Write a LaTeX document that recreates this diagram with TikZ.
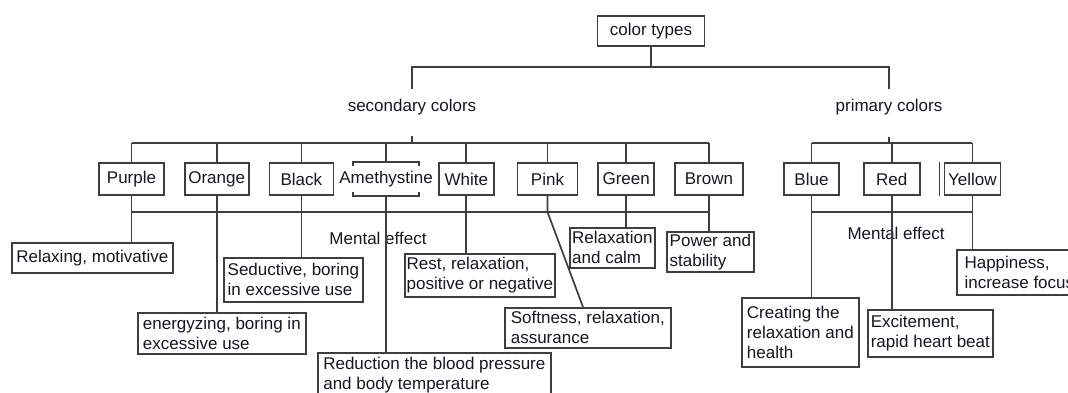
\documentclass[tikz,border=0pt]{standalone}
\usepackage{fontspec}
\setmainfont{Liberation Sans}
\usetikzlibrary{positioning}
\definecolor{linegray}{RGB}{62,62,62}
\definecolor{textdark}{RGB}{22,22,32}

\begin{document}
\begin{tikzpicture}[x=1pt,y=-1pt,line width=1.7pt,draw=linegray,text=textdark,
  node distance=19pt,font=\fontsize{17pt}{20pt}\selectfont,
  color node/.style={draw,minimum height=32pt,inner sep=0pt},
  effect node/.style={draw,anchor=north west,align=left,inner sep=1pt}]
  \clip (0,0) rectangle (1068,392);

  % top of the tree
  \node[color node,minimum width=107pt,minimum height=30pt] (root) at (651,31) {color types};
  \node (sec) at (412,107) {secondary colors};
  \node (prim) at (889,107) {primary colors};
  \coordinate (tbar) at (0,67);
  \coordinate (ubar) at (0,143);
  \coordinate (lbar) at (0,212);
  \draw (root) -- (root |- tbar);
  \draw ([yshift=18pt]sec.center) |- (tbar -| prim) -- ([yshift=18pt]prim.center);

  % secondary colors
  \node[color node,minimum width=65pt] (purple) at (131.5,179) {Purple};
  \node[color node,minimum width=64pt] (orange) [right=of purple] {Orange};
  \node[color node,minimum width=64pt] (black) [right=of orange] {Black};
  \node[minimum width=64pt,minimum height=32pt,inner sep=0pt] (ame) [right=of black] {\makebox[64pt]{Amethystine}};
  \node[color node,minimum width=55pt] (white) [right=of ame] {White};
  \node[color node,minimum width=60pt] (pink) [right=22pt of white] {Pink};
  \node[color node,minimum width=56pt] (green) [right=of pink] {Green};
  \node[color node,minimum width=68pt] (brown) [right=of green] {Brown};
  \draw ([yshift=-4pt]ame.north west) -- (ame.north west) -- (ame.north east) -- ([yshift=-4pt]ame.north east);
  \draw ([yshift=4pt]ame.south west) -- (ame.south west) -- (ame.south east) -- ([yshift=4pt]ame.south east);

  % primary colors
  \node[color node,minimum width=55pt] (blue) at (811.5,179) {Blue};
  \node[color node,minimum width=56pt] (red) [right=23pt of blue] {Red};
  \node[color node,minimum width=56pt] (yellow) [right=23pt of red] {Yellow};
  \draw ([xshift=-4pt]yellow.north west) -- ([xshift=-4pt]yellow.south west);

  \draw ([yshift=-29pt]sec.center) -- (sec |- ubar);
  \draw ([yshift=-30pt]prim.center) -- (prim |- ubar);
  \draw (purple |- ubar) -- (brown |- ubar);
  \draw (blue |- ubar) -- (yellow |- ubar);
  \foreach \c in {purple,orange,black,ame,white,pink,green,brown,blue,red,yellow}
    \draw (\c |- ubar) -- (\c);

  % mental effects
  \node (ment) at (378,238) {Mental effect};
  \node (mentp) at (896,233) {Mental effect};
  \node[effect node,minimum width=161pt,minimum height=30pt] (relax) at (11,242) {Relaxing, motivative};
  \node[effect node,minimum width=168pt,minimum height=41pt] (energ) at (137,312) {energyzing, boring in\\excessive use};
  \node[effect node,minimum width=139pt,minimum height=44pt] (seduct) at (223,257) {Seductive, boring\\in excessive use};
  \node[effect node,minimum width=233pt,minimum height=44pt] (reduct) at (317,352) {Reduction the blood pressure\\and body temperature};
  \node[effect node,minimum width=150pt,minimum height=43pt] (rest) at (404,253) {Rest, relaxation,\\positive or negative};
  \node[effect node,minimum width=166pt,minimum height=40pt] (soft) at (504,307) {Softness, relaxation,\\assurance};
  \node[effect node,minimum width=85pt,minimum height=40pt] (calm) at (569,227) {Relaxation\\and calm};
  \node[effect node,minimum width=87pt,minimum height=40pt] (power) at (666,231) {Power and\\stability};
  \node[effect node,minimum width=117pt,minimum height=69pt] (create) at (741,297) {Creating the\\relaxation and\\health};
  \node[effect node,minimum width=125pt,minimum height=47pt] (excite) at (867,309) {Excitement,\\rapid heart beat};
  \node[effect node,minimum width=125pt,minimum height=45pt,inner xsep=6pt] (happy) at (956,249) {Happiness,\\increase focus};

  \draw (purple |- lbar) -- (brown |- lbar);
  \draw (blue |- lbar) -- (yellow |- lbar);
  \draw (purple) -- (purple |- relax.north);
  \draw (orange) -- (orange |- energ.north);
  \draw (black) -- (black |- seduct.north);
  \draw (ame) -- (ame |- reduct.north);
  \draw (white) -- (white |- rest.north);
  \draw (pink) -- (pink |- lbar) -- ([xshift=79pt]soft.north west);
  \draw (green) -- (green |- calm.north);
  \draw (brown) -- (brown |- power.north);
  \draw (blue) -- (blue |- create.north);
  \draw (red) -- (red |- excite.north);
  \draw (yellow) -- (yellow |- happy.north);
\end{tikzpicture}
\end{document}
